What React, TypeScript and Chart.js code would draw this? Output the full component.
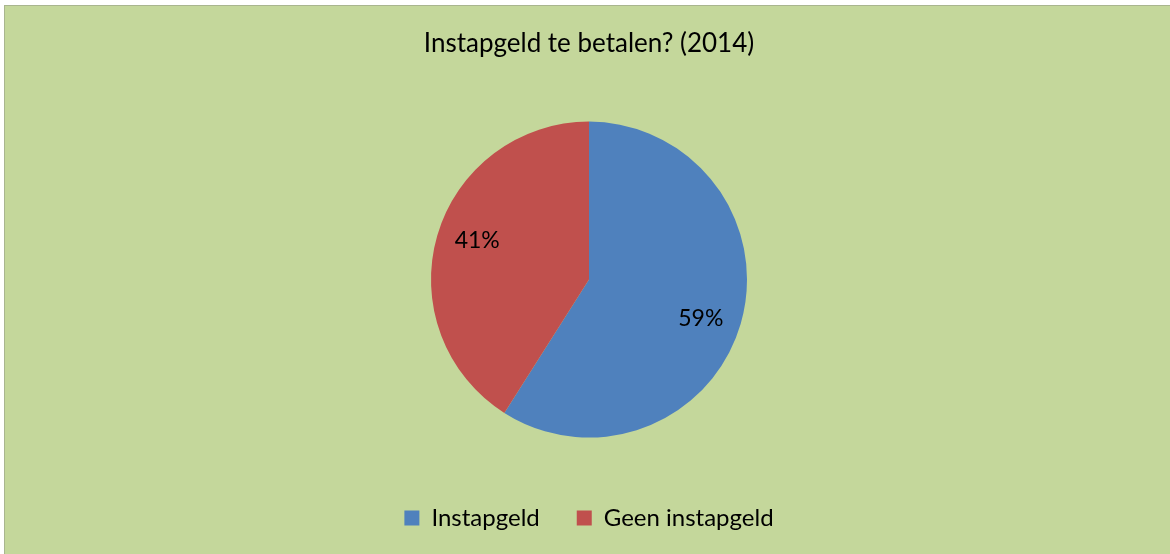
import { useEffect, useRef } from 'react';
import { Chart, registerables } from 'chart.js';

Chart.register(...registerables);

const chartTitle = 'Instapgeld te betalen? (2014)';
const categories = ['Instapgeld', 'Geen instapgeld'];
const shares = [59, 41];
const sliceColors = ['#4F81BD', '#C0504D'];

const FONT = 'Lato, "Open Sans", sans-serif';

const pctLabels = {
  id: 'pctLabels',
  afterDatasetsDraw(chart: any) {
    const ctx = chart.ctx;
    const meta = chart.getDatasetMeta(0);
    const data = chart.data.datasets[0].data as number[];
    const total = data.reduce((a, b) => a + b, 0);
    meta.data.forEach((arc: any, i: number) => {
      const p = arc.getProps(['x', 'y', 'startAngle', 'endAngle', 'outerRadius'], true);
      const mid = (p.startAngle + p.endAngle) / 2 + 0.055;
      const r = p.outerRadius * 0.75;
      ctx.save();
      ctx.font = `23px ${FONT}`;
      ctx.fillStyle = '#000000';
      ctx.textAlign = 'center';
      ctx.textBaseline = 'middle';
      ctx.fillText(Math.round((data[i] / total) * 100) + '%', p.x + Math.cos(mid) * r, p.y + Math.sin(mid) * r);
      ctx.restore();
    });
  },
};

export default function App() {
  const ref = useRef<HTMLCanvasElement>(null);
  useEffect(() => {
    document.body.style.margin = '0';
    const chart = new Chart(ref.current!, {
      type: 'pie',
      data: {
        labels: categories,
        datasets: [
          {
            data: shares,
            backgroundColor: sliceColors,
            borderWidth: 0,
          },
        ],
      },
      options: {
        responsive: false,
        maintainAspectRatio: false,
        animation: false,
        devicePixelRatio: 1,
        radius: 158,
        events: [],
        layout: { padding: { top: 0, bottom: 14, left: 3, right: 0 } },
        plugins: {
          tooltip: { enabled: false },
          title: {
            display: true,
            text: chartTitle,
            color: '#000000',
            font: { family: FONT, size: 26, weight: 'normal', lineHeight: 1.2 },
            padding: { top: 22, bottom: 31 },
          },
          legend: {
            display: true,
            position: 'bottom',
            labels: {
              color: '#000000',
              font: { family: FONT, size: 24 },
              boxWidth: 15,
              boxHeight: 15,
              padding: 37,
            },
          },
        },
      } as any,
      plugins: [pctLabels],
    });
    return () => chart.destroy();
  }, []);
  return (
    <div style={{ position: 'relative', width: 1170, height: 554, background: '#ffffff', overflow: 'hidden' }}>
      <div
        style={{
          position: 'absolute',
          left: 4,
          top: 5,
          width: 1166,
          height: 549,
          background: '#C4D79B',
          borderLeft: '1px solid #A9B58F',
          borderTop: '1px solid #A9B58F',
        }}
      >
        <canvas ref={ref} width={1165} height={548} style={{ display: 'block' }} />
      </div>
    </div>
  );
}
